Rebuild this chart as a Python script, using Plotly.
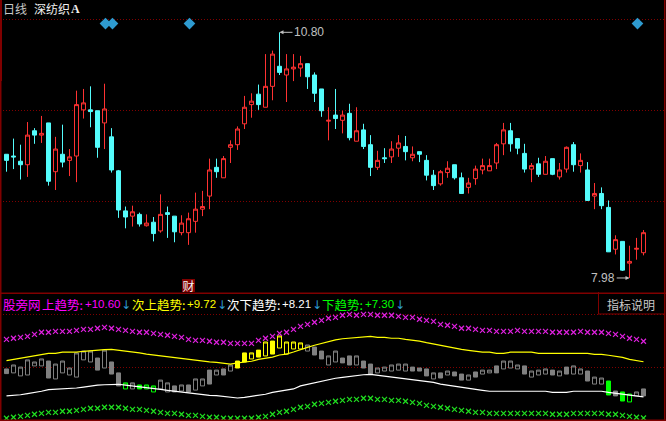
import plotly.graph_objects as go

W, H = 666, 421
TOP_PX = 292

# ---- main panel: daily candles ----
opens = [9.40,9.38,9.32,9.28,9.67,9.62,9.76,9.20,9.40,9.33,
         9.38,9.91,9.91,9.90,9.76,9.60,9.21,8.75,8.69,8.71,
         8.58,8.62,8.52,8.73,8.69,8.50,8.50,8.63,8.77,8.92,
         9.25,9.13,9.48,9.51,9.75,9.97,10.09,9.94,10.18,10.41,
         10.31,10.38,10.39,10.44,10.31,10.15,9.78,9.85,9.79,9.87,
         9.55,9.68,9.51,9.25,9.36,9.37,9.47,9.49,9.36,9.43,
         9.33,9.16,9.06,9.19,9.28,9.13,9.02,9.12,9.22,9.21,
         9.30,9.52,9.67,9.58,9.41,9.23,9.29,9.17,9.35,9.14,
         9.23,9.51,9.27,9.22,8.92,8.95,8.79,8.31,8.40,8.15,
         8.31,8.27]
highs = [9.40,9.58,9.51,9.77,9.70,9.84,9.76,9.60,9.74,9.46,
         10.13,10.15,10.18,9.90,10.21,9.70,9.22,8.80,8.81,8.73,
         8.71,8.68,8.94,8.80,8.69,8.70,8.73,8.96,8.98,9.35,
         9.35,9.38,9.56,9.72,10.07,10.10,10.20,10.55,10.59,10.80,
         10.55,10.55,10.53,10.44,10.34,10.15,9.94,10.15,9.90,9.98,
         9.94,9.75,9.62,9.44,9.47,9.55,9.62,9.61,9.49,9.43,
         9.39,9.22,9.22,9.32,9.28,9.19,9.13,9.27,9.35,9.35,
         9.53,9.76,9.76,9.58,9.52,9.30,9.36,9.38,9.35,9.30,
         9.49,9.54,9.41,9.31,9.07,9.02,8.87,8.47,8.40,8.35,
         8.44,8.53]
lows = [9.20,9.23,9.11,9.14,9.52,9.53,9.04,8.99,9.25,9.15,
        9.08,9.81,9.71,9.36,9.46,9.19,8.67,8.55,8.57,8.57,
        8.57,8.40,8.50,8.44,8.39,8.47,8.36,8.50,8.69,8.77,
        9.13,9.13,9.30,9.45,9.69,9.82,9.91,9.94,10.02,10.31,
        10.00,10.24,10.29,10.15,10.00,9.83,9.56,9.69,9.64,9.56,
        9.55,9.46,9.15,9.22,9.30,9.30,9.37,9.33,9.32,9.31,
        9.10,8.99,9.04,9.13,9.11,8.95,8.95,9.05,9.17,9.21,
        9.23,9.39,9.43,9.40,9.19,9.08,9.14,9.17,9.16,9.11,
        9.19,9.20,9.19,8.87,8.77,8.77,8.28,8.25,8.06,7.98,
        8.19,8.24]
closes = [9.33,9.37,9.28,9.62,9.62,9.64,9.09,9.46,9.31,9.37,
          9.97,9.99,9.89,9.48,9.92,9.22,8.76,8.68,8.74,8.60,
          8.61,8.49,8.71,8.71,8.51,8.61,8.66,8.77,8.80,9.22,
          9.20,9.35,9.51,9.69,9.94,10.01,9.97,10.18,10.55,10.34,
          10.38,10.40,10.44,10.29,10.10,9.90,9.79,9.81,9.85,9.59,
          9.67,9.49,9.25,9.33,9.35,9.46,9.53,9.43,9.40,9.40,
          9.16,9.04,9.20,9.24,9.13,8.95,9.07,9.23,9.27,9.27,
          9.51,9.68,9.52,9.47,9.23,9.27,9.17,9.32,9.17,9.22,
          9.48,9.28,9.33,8.87,8.95,8.81,8.28,8.42,8.07,8.17,
          8.32,8.50]
signal_idx = [14.14, 15.14, 26.14, 90.14]
signal_val = [10.90, 10.90, 10.90, 10.90]
high_idx, high_val = 39, 10.80
low_idx, low_val = 89, 7.98
news_idx, news_val = 26, 7.894

# ---- lower panel: trend indicator ----
box_open = [9.41,9.24,9.11,9.15,9.54,9.54,9.75,8.98,9.24,9.15,
            9.06,9.80,9.71,9.88,9.45,9.71,9.24,8.55,8.55,8.72,
            8.55,8.42,8.55,8.42,8.68,8.46,8.72,8.50,8.68,9.36,
            9.15,9.41,9.32,9.75,10.10,9.84,10.22,9.97,10.61,10.31,
            10.05,10.27,10.27,10.18,10.35,10.18,9.58,9.71,9.88,9.97,
            9.58,9.75,9.62,9.24,9.32,9.32,9.36,9.32,9.49,9.45,
            9.41,8.98,9.24,9.15,9.28,9.19,8.93,9.28,9.19,9.24,
            9.54,9.41,9.45,9.41,9.54,9.06,9.15,9.19,9.36,9.11,
            9.49,9.19,9.19,9.32,8.76,8.76,8.89,8.46,8.42,7.99,
            8.25,8.55]
box_close = [9.21,9.58,9.49,9.80,9.71,9.84,9.02,9.62,9.75,9.45,
             10.10,10.18,10.18,9.36,10.22,9.19,8.68,8.81,8.81,8.55,
             8.72,8.68,8.93,8.81,8.42,8.72,8.42,8.98,8.98,8.76,
             9.36,9.15,9.58,9.45,9.71,10.10,9.92,10.57,10.05,10.83,
             10.57,10.57,10.53,10.44,10.01,9.84,9.97,10.18,9.67,9.58,
             9.97,9.45,9.19,9.45,9.49,9.58,9.62,9.62,9.32,9.32,
             9.11,9.24,9.02,9.32,9.11,8.93,9.15,9.06,9.36,9.36,
             9.24,9.75,9.75,9.58,9.19,9.32,9.36,9.41,9.15,9.32,
             9.19,9.54,9.41,8.89,9.06,9.02,8.29,8.25,8.03,8.33,
             8.42,8.25]
box_state = (["g"] * 17 + ["l", "g", "l", "l", "l"] + ["g"] * 11 + ["y"] * 10
             + ["g"] * 43 + ["l", "g", "l", "l", "g", "g"])

trend_upper = [10.68,10.73,10.77,10.81,10.90,10.99,10.99,11.03,11.03,11.03,
               11.07,11.11,11.11,11.16,11.20,11.16,11.11,11.07,11.03,10.99,
               10.99,10.94,10.90,10.86,10.81,10.77,10.68,10.64,10.64,10.60,
               10.56,10.56,10.51,10.51,10.51,10.51,10.64,10.73,10.81,10.94,
               10.99,11.11,11.24,11.33,11.42,11.50,11.59,11.63,11.72,11.76,
               11.72,11.76,11.76,11.72,11.72,11.72,11.67,11.63,11.63,11.55,
               11.50,11.46,11.33,11.29,11.24,11.16,11.16,11.11,11.07,11.07,
               11.03,11.03,11.03,11.07,11.03,11.03,11.03,11.03,10.99,10.99,
               10.99,10.99,11.03,10.99,10.99,10.99,10.94,10.90,10.81,10.73,
               10.68,10.60]
trend_second = [9.77,9.82,9.87,9.91,9.97,10.04,10.08,10.08,10.13,10.13,
                10.13,10.17,10.20,10.21,10.24,10.25,10.22,10.18,10.13,10.10,
                10.05,10.01,9.97,9.92,9.88,9.84,9.80,9.78,9.74,9.71,
                9.69,9.65,9.62,9.67,9.71,9.74,9.82,9.87,9.92,10.01,
                10.05,10.14,10.25,10.34,10.43,10.51,10.60,10.66,10.71,10.74,
                10.78,10.81,10.81,10.77,10.77,10.73,10.73,10.68,10.66,10.61,
                10.54,10.48,10.43,10.34,10.30,10.25,10.21,10.17,10.13,10.13,
                10.08,10.08,10.13,10.13,10.13,10.13,10.08,10.08,10.08,10.08,
                10.08,10.08,10.08,10.08,10.04,10.04,10.00,9.95,9.91,9.82,
                9.78,9.72]
trend_third = [8.25,8.27,8.30,8.35,8.39,8.45,8.52,8.53,8.55,8.58,
               8.59,8.63,8.68,8.71,8.73,8.75,8.75,8.71,8.68,8.65,
               8.62,8.59,8.53,8.49,8.45,8.42,8.38,8.35,8.30,8.27,
               8.26,8.22,8.19,8.16,8.19,8.23,8.27,8.32,8.40,8.45,
               8.50,8.55,8.68,8.75,8.81,8.89,8.95,9.01,9.05,9.09,
               9.14,9.16,9.18,9.14,9.11,9.08,9.05,9.01,8.96,8.93,
               8.89,8.83,8.76,8.71,8.66,8.62,8.58,8.53,8.49,8.45,
               8.45,8.45,8.45,8.45,8.45,8.45,8.45,8.45,8.40,8.40,
               8.40,8.45,8.45,8.45,8.45,8.45,8.40,8.36,8.32,8.27,
               8.23,8.21]
trend_lower = [7.29,7.33,7.37,7.41,7.46,7.50,7.54,7.54,7.59,7.59,
               7.63,7.67,7.72,7.72,7.76,7.76,7.76,7.72,7.67,7.67,
               7.63,7.59,7.54,7.50,7.50,7.46,7.41,7.41,7.37,7.33,
               7.33,7.29,7.29,7.29,7.29,7.29,7.33,7.37,7.46,7.54,
               7.59,7.67,7.76,7.80,7.89,7.93,7.97,8.02,8.06,8.10,
               8.10,8.15,8.15,8.10,8.10,8.06,8.06,8.02,7.97,7.93,
               7.84,7.80,7.76,7.72,7.67,7.63,7.59,7.54,7.54,7.50,
               7.50,7.50,7.50,7.50,7.50,7.50,7.50,7.50,7.46,7.46,
               7.46,7.50,7.50,7.50,7.50,7.50,7.46,7.46,7.41,7.37,
               7.33,7.30]

stock_label = ["日线", "深纺织", "A"]
legend_cjk = [("股旁网", "#FF00FF", 3), ("上趋势:", "#FF00FF", 42),
              ("次上趋势:", "#FFFF00", 132), ("次下趋势:", "#FFFFFF", 227), ("下趋势:", "#00FF00", 322)]
legend_num = [("+10.60", "#FF00FF", 85, 126), ("+9.72", "#FFFF00", 187, 221.5),
              ("+8.21", "#FFFFFF", 282, 316.5), ("+7.30", "#00FF00", 365, 399.5)]

RED, CYAN = "#FF3232", "#54FCFC"
FRAME = "#800000"
GRAY = "#808080"
BLACK = "#000000"
ARROW = "#2E9BD0"
n = len(opens)
xs = list(range(n))
xr = [-6.5 / 7, (W - 6.5) / 7]
top_range = [7.819, 11.171]
bot_range = [7.17, 12.721]
split = 1 - TOP_PX / H

fig = go.Figure()

fig.add_trace(go.Candlestick(
    x=xs, open=opens, high=highs, low=lows, close=closes, xaxis="x", yaxis="y",
    increasing=dict(line=dict(color=RED, width=1), fillcolor=BLACK),
    decreasing=dict(line=dict(color=CYAN, width=1), fillcolor=CYAN),
    whiskerwidth=0, showlegend=False, hoverinfo="skip"))

fig.add_trace(go.Scatter(
    x=signal_idx, y=signal_val, mode="markers", xaxis="x", yaxis="y",
    marker=dict(symbol="diamond", size=9, color=ARROW), showlegend=False, hoverinfo="skip"))

state_color = {"g": GRAY, "y": "#FFFF00", "l": "#00FF00"}
for st, col in state_color.items():
    ids = [i for i in xs if box_state[i] == st]
    fig.add_trace(go.Candlestick(
        x=ids,
        open=[box_open[i] for i in ids],
        close=[box_close[i] for i in ids],
        high=[max(box_open[i], box_close[i]) for i in ids],
        low=[min(box_open[i], box_close[i]) for i in ids],
        xaxis="x2", yaxis="y2",
        increasing=dict(line=dict(color=col, width=1), fillcolor=BLACK),
        decreasing=dict(line=dict(color=col, width=1), fillcolor=col),
        whiskerwidth=0, showlegend=False, hoverinfo="skip"))

for vals, col in ((trend_second, "#FFFF00"), (trend_third, "#FFFFFF")):
    fig.add_trace(go.Scatter(x=xs, y=vals, mode="lines", xaxis="x2", yaxis="y2",
                             line=dict(color=col, width=1.2), showlegend=False, hoverinfo="skip"))
for vals, col in ((trend_upper, "#E020E0"), (trend_lower, "#20E020")):
    fig.add_trace(go.Scatter(x=xs, y=vals, mode="markers", xaxis="x2", yaxis="y2",
                             marker=dict(symbol="x-thin", size=5, line=dict(color=col, width=1.2)),
                             showlegend=False, hoverinfo="skip"))

def px(x):
    return x / W
def py(y):
    return 1 - y / H

CJK = "Noto Sans CJK SC"
ann = []
ann.append(dict(x=px(3), y=py(9), text=stock_label[0], font=dict(size=12, color="#C8C8C8", family=CJK)))
ann.append(dict(x=px(34), y=py(9), text=stock_label[1], font=dict(size=12, color="#F0F0F0", family=CJK)))
ann.append(dict(x=px(71), y=py(9), text="<b>" + stock_label[2] + "</b>", font=dict(size=12, color="#F0F0F0", family="Liberation Serif")))
for text, col, x0 in legend_cjk:
    ann.append(dict(x=px(x0), y=py(304), text=text, font=dict(size=12.5, color=col, family=CJK)))
for text, col, x0, xa in legend_num:
    ann.append(dict(x=px(x0), y=py(304), text=text, font=dict(size=11.5, color=col, family="Liberation Sans")))
ann.append(dict(x=px(607), y=py(304), text="指标说明", font=dict(size=12, color="#C8C8C8", family=CJK)))
for a in ann:
    a.update(xref="paper", yref="paper", xanchor="left", yanchor="middle", showarrow=False, borderpad=0, borderwidth=0)
for text, col, x0, xa in legend_num:
    ann.append(dict(x=px(xa), y=py(304.5), xref="paper", yref="paper", xanchor="center", yanchor="middle",
                    showarrow=False, borderpad=0, borderwidth=0, text="↓",
                    font=dict(size=12, color=ARROW, family="DejaVu Sans")))

ann.append(dict(x=high_idx, y=high_val, xref="x", yref="y", text="10.80",
                font=dict(size=12, color="#C0C0C0", family="Liberation Sans"),
                showarrow=True, arrowhead=2, arrowsize=0.8, arrowwidth=1, arrowcolor="#C0C0C0",
                ax=29.5, ay=0, axref="pixel", ayref="pixel"))
ann.append(dict(x=low_idx, y=low_val, xref="x", yref="y", text="7.98",
                font=dict(size=12, color="#C0C0C0", family="Liberation Sans"),
                showarrow=True, arrowhead=2, arrowsize=0.8, arrowwidth=1, arrowcolor="#C0C0C0",
                ax=-26.3, ay=0, axref="pixel", ayref="pixel"))
ann.append(dict(x=news_idx, y=news_val, xref="x", yref="y", text="财", showarrow=False,
                bgcolor=FRAME, borderpad=0, borderwidth=0, width=13, height=13,
                font=dict(size=12, color="#F0F0F0", family=CJK)))

def frame(x0, y0, x1, y1):
    return dict(type="rect", xref="paper", yref="paper", x0=px(x0), y0=py(y0), x1=px(x1), y1=py(y1),
                line=dict(width=0), fillcolor=FRAME, layer="above")

shapes = [frame(0, 0, 2, 81), frame(0, 81, 1.5, 421), frame(664, 0, 665.5, 421),
          frame(0, 292.5, 666, 294), frame(0, 419.5, 666, 421),
          frame(598, 292, 599, 314), frame(598, 313.5, 665, 314.5)]

fig.update_layout(
    width=W, height=H, margin=dict(l=0, r=0, t=0, b=0),
    paper_bgcolor=BLACK, plot_bgcolor=BLACK, showlegend=False,
    annotations=ann, shapes=shapes,
    boxmode="overlay", boxgap=0.43, boxgroupgap=0,
    xaxis=dict(domain=[0, 1], range=xr, visible=False, rangeslider=dict(visible=False), fixedrange=True),
    xaxis2=dict(domain=[0, 1], range=xr, visible=False, rangeslider=dict(visible=False), fixedrange=True, anchor="y2"),
    yaxis=dict(domain=[split, 1], range=top_range, tickvals=[10.942, 9.901, 8.860], showticklabels=False,
               showgrid=True, gridcolor=FRAME, griddash="1px,2px", gridwidth=1, zeroline=False, fixedrange=True, showline=False, ticks=""),
    yaxis2=dict(domain=[0, split], range=bot_range, tickvals=[11.76, 9.48], showticklabels=False, anchor="x2",
                showgrid=True, gridcolor=FRAME, griddash="1px,2px", gridwidth=1, zeroline=False, fixedrange=True, showline=False, ticks=""),
)

fig.write_html("out.html", config=dict(displayModeBar=False),
               post_script="document.body.style.margin='0';document.body.style.background='#000';")
